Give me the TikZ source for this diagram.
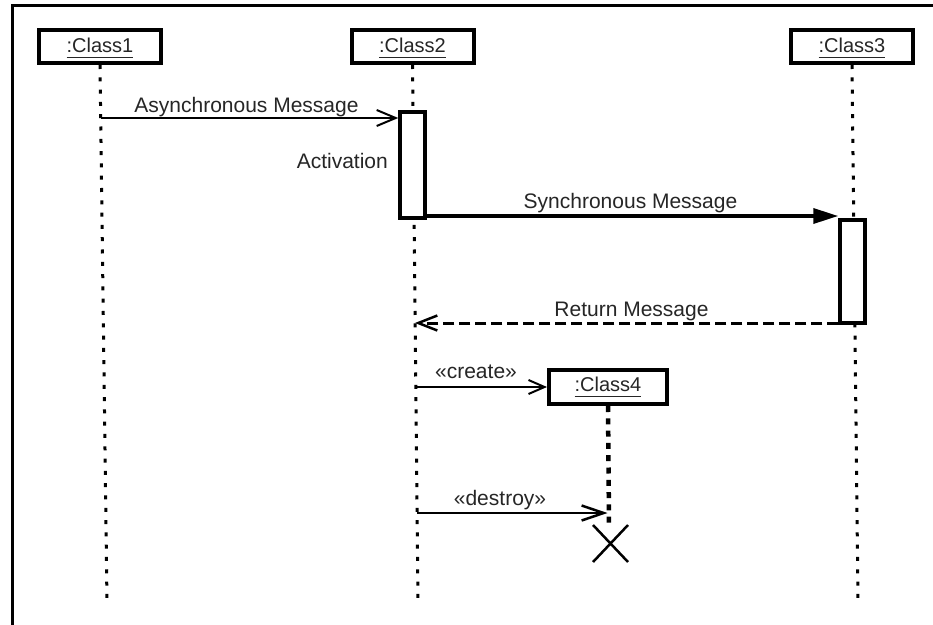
\documentclass[tikz,border=0pt]{standalone}
\usepackage{fontspec}
\setmainfont{Liberation Sans}
\usetikzlibrary{arrows.meta,calc}

% object name with a hand-set underline
\newcommand\objname[1]{\setbox0=\hbox{#1}\rlap{\vrule width\wd0 height -5pt depth 6.2pt}\box0}

\tikzset{
  classbox/.style={draw, line width=4pt, fill=white, minimum width=122pt, minimum height=33pt,
    inner sep=0pt, text height=14pt, text depth=3pt, text=black!85,
    font=\fontsize{20}{24}\selectfont},
  actbox/.style={draw, fill=white, line width=3.5pt, minimum width=25pt, inner sep=0pt},
  lifeline/.style={line width=3pt, dash pattern=on 4pt off 8.3pt},
  msglabel/.style={font=\fontsize{21}{25}\selectfont, text=black!85, inner sep=0pt},
  asyncmsg/.style={line width=2pt, -{Straight Barb[length=19pt, width=16pt, line width=2pt]}},
  syncmsg/.style={line width=3.5pt, -{Triangle[length=25pt, width=15pt]}},
  returnmsg/.style={line width=3pt, dash pattern=on 11pt off 5pt,
    -{Straight Barb[length=19pt, width=15pt, line width=2.5pt, sep=0pt]}},
}

\begin{document}
\begin{tikzpicture}[x=1pt, y=-1pt]
  \useasboundingbox (0,0) rectangle (933,624);
  \fill[white] (0,0) rectangle (933,624);
  \clip (0,0) rectangle (933,624);

  % surrounding frame
  \draw[line width=3pt] (12.5,700) -- (12.5,5.5) -- (1000,5.5);

  % objects
  \node[classbox] (c1) at (100,46.5) {\objname{:Class1}};
  \node[classbox] (c2) at (412.5,46.5) {\objname{:Class2}};
  \node[classbox] (c3) at (852,46.5) {\objname{:Class3}};

  % lifeline ends
  \coordinate (l1b) at (107,603);
  \coordinate (l2b) at (418,603);
  \coordinate (l3b) at (858,603);
  \coordinate (l4b) at (609,524);

  \draw[lifeline] (c1.south) -- (l1b);
  \draw[lifeline] (c2.south) -- (l2b);
  \draw[lifeline] (c3.south) -- (l3b);

  % activations
  \node[actbox, minimum height=106pt] (act2) at (412.5,165) {};
  \node[actbox, minimum height=103pt] (act3) at (852.5,271.5) {};

  % created object
  \node[classbox, minimum width=118pt, minimum height=34pt, text depth=6pt] (c4) at (608,387) {\objname{:Class4}};
  \draw[lifeline, line width=4.5pt, dash pattern=on 6pt off 6.3pt] (c4.south) -- (l4b);

  % message end points on the lifelines
  \coordinate (m1) at (100.7,118);
  \coordinate (m2) at (0,216);
  \coordinate (m3) at (0,323);
  \coordinate (m3e) at (414.9,323);
  \coordinate (m4) at (415.6,387);
  \coordinate (m5) at (417,513);
  \coordinate (m5e) at (607.5,513);

  % messages
  \draw[asyncmsg] (m1) -- (act2.west |- m1);
  \draw[syncmsg] (act2.east |- m2) -- (act3.west |- m2);
  \draw[returnmsg] (act3.west |- m3) -- (m3e);
  \draw[asyncmsg, -{Straight Barb[length=16pt, width=14pt, line width=2pt]}] (m4) -- (c4.west);
  \draw[asyncmsg, line width=2.5pt, -{Straight Barb[length=22pt, width=15pt, line width=2.5pt]}] (m5) -- (m5e);

  % destruction mark
  \coordinate (xd) at (610.5,543.5);
  \draw[line width=2.5pt] ($(xd)+(-17.5,-18.5)$) -- ($(xd)+(17.5,18.5)$)
                          ($(xd)+(17.5,-18.5)$) -- ($(xd)+(-17.5,18.5)$);

  % labels
  \node[msglabel, anchor=base] (t1) at (246.5,112) {Asynchronous Message};
  \node[msglabel, anchor=base east] (t2) at (388,168) {Activation};
  \node[msglabel, anchor=base] (t3) at (630.5,208) {Synchronous Message};
  \node[msglabel, anchor=base] (t4) at (631.5,316) {Return Message};
  \node[msglabel, anchor=base] (t5) at (476,378) {«create»};
  \node[msglabel, anchor=base] (t6) at (500,505) {«destroy»};
\end{tikzpicture}
\end{document}
